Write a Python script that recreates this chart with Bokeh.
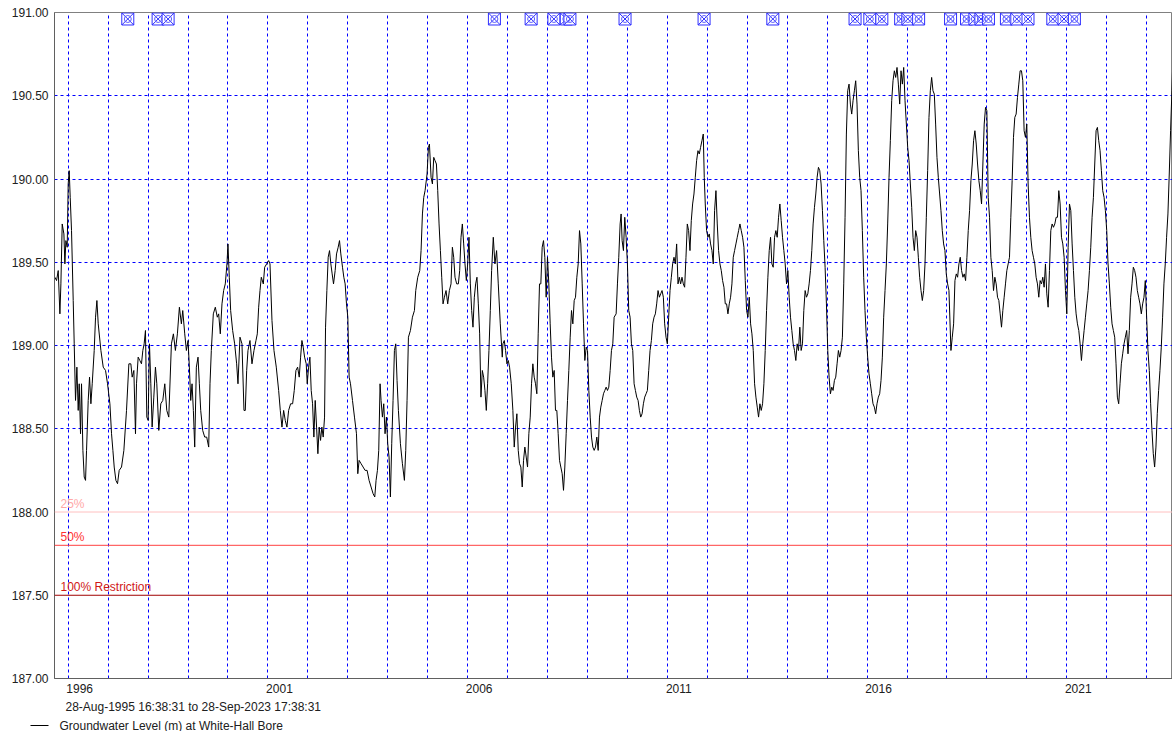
import datetime as dt
import numpy as np
from bokeh.plotting import figure
from bokeh.layouts import column
from bokeh.core.properties import value
from bokeh.models import (Range1d, FixedTicker, DatetimeTickFormatter, Span, Label,
                          PrintfTickFormatter)
from bokeh.embed import file_html
from bokeh.resources import INLINE

# ---------------- data (decimal year, level m) ----------------
seg_1995_2001 = [(1995.667,189.41),(1995.708,189.39),(1995.750,189.45),(1995.792,189.19),(1995.817,189.37),(1995.850,189.73),(1995.892,189.67),(1995.917,189.49),(1995.942,189.63),(1995.975,189.59),(1996.000,189.97),(1996.025,190.05),(1996.050,189.89),(1996.083,189.69),(1996.125,189.27),(1996.150,189.01),(1996.183,188.67),(1996.217,188.87),(1996.250,188.61),(1996.275,188.77),(1996.308,188.47),(1996.333,188.77),(1996.367,188.37),(1996.400,188.21),(1996.433,188.19),(1996.458,188.37),(1996.500,188.67),(1996.533,188.81),(1996.567,188.65),(1996.600,188.77),(1996.650,188.97),(1996.683,189.17),(1996.717,189.27),(1996.750,189.13),(1996.817,188.97),(1996.875,188.87),(1996.933,188.85),(1996.983,188.77),(1997.042,188.65),(1997.083,188.47),(1997.117,188.37),(1997.150,188.27),(1997.192,188.19),(1997.233,188.17),(1997.275,188.25),(1997.333,188.27),(1997.392,188.37),(1997.458,188.61),(1997.517,188.89),(1997.567,188.89),(1997.600,188.81),(1997.642,188.85),(1997.683,188.47),(1997.708,188.77),(1997.750,188.93),(1997.792,188.91),(1997.833,188.89),(1997.867,188.97),(1997.900,189.01),(1997.933,189.09),(1997.967,188.57),(1998.000,188.55),(1998.033,189.01),(1998.067,188.77),(1998.100,188.51),(1998.142,188.69),(1998.183,188.87),(1998.217,188.77),(1998.267,188.49),(1998.317,188.65),(1998.367,188.67),(1998.417,188.77),(1998.467,188.61),(1998.517,188.57),(1998.583,189.01),(1998.633,189.07),(1998.683,188.97),(1998.733,189.07),(1998.783,189.23),(1998.833,189.13),(1998.867,189.21),(1998.917,189.07),(1998.958,188.97),(1999.000,189.03),(1999.033,188.87),(1999.067,188.67),(1999.100,188.77),(1999.133,188.61),(1999.167,188.39),(1999.208,188.87),(1999.250,188.93),(1999.283,188.77),(1999.317,188.61),(1999.367,188.49),(1999.417,188.45),(1999.467,188.45),(1999.517,188.39),(1999.550,188.77),(1999.583,188.97),(1999.633,189.19),(1999.683,189.23),(1999.733,189.17),(1999.767,189.19),(1999.808,189.07),(1999.850,189.25),(1999.892,189.33),(1999.933,189.37),(1999.975,189.49),(2000.000,189.61),(2000.033,189.41),(2000.067,189.21),(2000.117,189.09),(2000.167,189.01),(2000.217,188.89),(2000.250,188.77),(2000.300,189.05),(2000.350,189.01),(2000.400,188.61),(2000.433,188.61),(2000.467,188.85),(2000.500,188.97),(2000.550,189.03),(2000.600,188.89),(2000.650,188.97),(2000.700,189.03),(2000.733,189.07),(2000.767,189.23),(2000.800,189.33),(2000.833,189.41),(2000.883,189.37),(2000.917,189.47),(2000.967,189.49),(2001.017,189.51),(2001.050,189.49),(2001.100,189.15),(2001.150,188.97),(2001.208,188.87)]

seg_2001_2006 = [(2001.267,188.73),(2001.308,188.61),(2001.350,188.51),(2001.392,188.61),(2001.433,188.55),(2001.475,188.51),(2001.517,188.61),(2001.567,188.65),(2001.617,188.65),(2001.658,188.73),(2001.700,188.85),(2001.742,188.87),(2001.783,188.81),(2001.817,188.93),(2001.850,189.03),(2001.883,188.99),(2001.917,188.93),(2001.958,188.89),(2001.983,188.77),(2002.017,188.87),(2002.050,188.93),(2002.083,188.73),(2002.117,188.65),(2002.150,188.45),(2002.183,188.67),(2002.217,188.51),(2002.250,188.35),(2002.283,188.51),(2002.317,188.43),(2002.350,188.51),(2002.383,188.45),(2002.417,188.57),(2002.442,189.11),(2002.475,189.33),(2002.508,189.53),(2002.542,189.57),(2002.575,189.49),(2002.608,189.43),(2002.642,189.37),(2002.683,189.45),(2002.717,189.55),(2002.758,189.59),(2002.792,189.63),(2002.825,189.55),(2002.867,189.47),(2002.900,189.41),(2002.933,189.37),(2002.967,189.25),(2003.000,189.17),(2003.033,188.81),(2003.067,188.77),(2003.117,188.67),(2003.167,188.57),(2003.217,188.47),(2003.250,188.23),(2003.283,188.31),(2003.333,188.29),(2003.383,188.27),(2003.433,188.25),(2003.483,188.25),(2003.533,188.19),(2003.583,188.15),(2003.633,188.11),(2003.675,188.09),(2003.708,188.19),(2003.742,188.25),(2003.775,188.37),(2003.808,188.77),(2003.833,188.67),(2003.867,188.57),(2003.900,188.65),(2003.933,188.47),(2003.967,188.57),(2004.000,188.41),(2004.033,188.33),(2004.067,188.09),(2004.100,188.41),(2004.133,188.67),(2004.167,188.97),(2004.200,189.01),(2004.233,188.79),(2004.267,188.61),(2004.317,188.41),(2004.367,188.29),(2004.417,188.19),(2004.450,188.37),(2004.483,188.67),(2004.517,189.05),(2004.567,189.09),(2004.617,189.17),(2004.667,189.21),(2004.700,189.33),(2004.750,189.41),(2004.800,189.45),(2004.833,189.57),(2004.867,189.79),(2004.900,189.89),(2004.933,189.93),(2004.983,190.03),(2005.017,190.19),(2005.042,190.21),(2005.083,190.01),(2005.117,189.97),(2005.150,190.13),(2005.183,190.11),(2005.217,190.09),(2005.250,189.93),(2005.283,189.73),(2005.317,189.57),(2005.350,189.41),(2005.383,189.25),(2005.417,189.29),(2005.458,189.33),(2005.500,189.25),(2005.542,189.33),(2005.583,189.37),(2005.617,189.59),(2005.650,189.53),(2005.683,189.41),(2005.725,189.37),(2005.767,189.37),(2005.800,189.45),(2005.833,189.65),(2005.867,189.73),(2005.900,189.61),(2005.933,189.49),(2005.967,189.39),(2006.000,189.49),(2006.033,189.65),(2006.067,189.37),(2006.100,189.21),(2006.133,189.11),(2006.167,189.29),(2006.200,189.37),(2006.233,189.41),(2006.267,189.25),(2006.300,189.07),(2006.333,188.69),(2006.367,188.85),(2006.400,188.81),(2006.433,188.73),(2006.467,188.61),(2006.500,188.77),(2006.533,188.97),(2006.567,189.21),(2006.600,189.45),(2006.642,189.65),(2006.683,189.49),(2006.725,189.57),(2006.767,189.37),(2006.817,189.13),(2006.867,188.93)]

seg_2006_2012 = [(2006.883,189.01),(2006.917,189.03),(2006.950,188.97),(2006.983,188.89),(2007.017,188.91),(2007.050,188.87),(2007.092,188.77),(2007.133,188.61),(2007.167,188.39),(2007.200,188.51),(2007.233,188.59),(2007.267,188.37),(2007.300,188.29),(2007.333,188.27),(2007.367,188.15),(2007.400,188.31),(2007.433,188.39),(2007.467,188.33),(2007.500,188.27),(2007.533,188.47),(2007.567,188.57),(2007.600,188.77),(2007.633,188.89),(2007.667,188.81),(2007.700,188.77),(2007.733,188.71),(2007.767,189.07),(2007.800,189.37),(2007.833,189.37),(2007.867,189.59),(2007.900,189.63),(2007.933,189.53),(2007.967,189.29),(2008.000,189.53),(2008.033,189.37),(2008.067,189.13),(2008.100,188.93),(2008.133,188.81),(2008.167,188.85),(2008.200,188.61),(2008.233,188.61),(2008.267,188.47),(2008.300,188.31),(2008.333,188.27),(2008.367,188.23),(2008.400,188.13),(2008.433,188.27),(2008.467,188.47),(2008.500,188.67),(2008.533,188.85),(2008.567,189.05),(2008.600,189.21),(2008.633,189.13),(2008.667,189.27),(2008.700,189.29),(2008.733,189.41),(2008.767,189.49),(2008.800,189.69),(2008.833,189.61),(2008.867,189.37),(2008.900,189.13),(2008.933,188.91),(2008.967,188.99),(2009.000,188.97),(2009.033,188.73),(2009.067,188.57),(2009.100,188.45),(2009.133,188.39),(2009.167,188.37),(2009.200,188.39),(2009.233,188.45),(2009.267,188.37),(2009.300,188.57),(2009.333,188.63),(2009.367,188.67),(2009.400,188.71),(2009.433,188.73),(2009.467,188.75),(2009.500,188.73),(2009.533,188.75),(2009.567,188.85),(2009.600,188.97),(2009.633,189.01),(2009.667,189.17),(2009.717,189.19),(2009.750,189.37),(2009.783,189.53),(2009.817,189.73),(2009.842,189.79),(2009.867,189.63),(2009.900,189.57),(2009.933,189.77),(2009.967,189.65),(2010.000,189.49),(2010.033,189.21),(2010.067,189.17),(2010.100,189.01),(2010.133,188.97),(2010.167,188.77),(2010.200,188.73),(2010.233,188.69),(2010.267,188.67),(2010.300,188.61),(2010.333,188.57),(2010.367,188.59),(2010.400,188.65),(2010.433,188.69),(2010.467,188.71),(2010.500,188.73),(2010.533,188.85),(2010.567,188.97),(2010.600,189.03),(2010.633,189.13),(2010.667,189.17),(2010.700,189.19),(2010.733,189.25),(2010.767,189.33),(2010.800,189.29),(2010.833,189.31),(2010.867,189.33),(2010.900,189.29),(2010.933,189.13),(2010.967,189.05),(2011.000,189.01),(2011.033,189.17),(2011.067,189.33),(2011.100,189.41),(2011.133,189.49),(2011.167,189.53),(2011.200,189.49),(2011.233,189.61),(2011.267,189.37),(2011.300,189.41),(2011.333,189.37),(2011.367,189.41),(2011.400,189.37),(2011.433,189.35),(2011.467,189.53),(2011.500,189.73),(2011.533,189.69),(2011.567,189.57),(2011.600,189.75),(2011.633,189.85),(2011.667,189.91),(2011.700,190.01),(2011.733,190.11),(2011.767,190.17),(2011.800,190.15),(2011.833,190.19),(2011.867,190.23),(2011.900,190.27),(2011.925,190.01),(2011.950,189.85),(2011.983,189.69),(2012.017,189.65),(2012.050,189.67),(2012.083,189.61),(2012.117,189.57),(2012.150,189.49),(2012.183,189.81),(2012.217,189.93),(2012.250,189.73),(2012.283,189.57),(2012.317,189.49),(2012.350,189.45),(2012.383,189.39),(2012.417,189.35),(2012.450,189.25)]

# regular series (one reading every 1/30 year)
reg_2012_start = 2012.483
reg_2012_levels = [189.25,189.19,189.25,189.29,189.37,189.53,189.57,189.61,189.65,189.69,189.73,189.69,189.65,189.59,189.39,189.21,189.17,189.29,189.13,189.07,188.97,188.77,188.69,188.63,188.57,188.65,188.61,188.65,188.77,188.97,189.21,189.41,189.57,189.65,189.49,189.47,189.65,189.69,189.65,189.77,189.85,189.75,189.65,189.57,189.49,189.37,189.45,189.29,189.17,189.09,189.01,188.97,188.91,189.01,188.97,189.11,188.97,189.01,189.21,189.33,189.29,189.31,189.37,189.45,189.57,189.73,189.83,189.91,190.01,190.07,190.05,189.97,189.81,189.63,189.47,189.25,188.97,188.81,188.71,188.75,188.73,188.79,188.81,188.89,188.97,188.93,188.97,189.05,189.37,189.77,190.27,190.53,190.57,190.45,190.39,190.47,190.53,190.59,190.45,190.17,190.01,189.93,189.69,189.41,189.21,189.05,188.93,188.83,188.77,188.71,188.65,188.63,188.59,188.65,188.69,188.71,188.79,188.93,189.17,189.33,189.49,189.73,190.01,190.23,190.47,190.59,190.65,190.61,190.67,190.57,190.45,190.65,190.57,190.67,190.47,190.33,190.19,190.11,189.97,189.83,189.65,189.57,189.69,189.65,189.53,189.41,189.33,189.27,189.33,189.49,189.77,190.05,190.37,190.53,190.61,190.53,190.51,190.33,190.13,190.01,189.91,189.81,189.69,189.61,189.57,189.43,189.37,189.33]

reg_2018_start = 2018.100
reg_2018_levels = [188.97,189.05,189.13,189.39,189.43,189.41,189.49,189.53,189.45,189.41,189.43,189.39,189.53,189.69,189.81,189.99,190.09,190.23,190.29,190.21,190.09,189.99,189.93,189.85,190.09,190.33,190.43,190.41,189.89,189.77,189.53,189.45,189.33,189.41,189.37,189.29,189.27,189.19,189.11,189.21,189.29,189.37,189.45,189.49,189.53,189.77,189.99,190.25,190.37,190.39,190.49,190.57,190.65,190.65,190.59,190.29,190.25,190.33,189.97,189.77,189.65,189.57,189.53,189.49,189.41,189.37,189.29,189.39,189.37,189.41,189.35,189.49,189.31,189.23,189.45,189.69,189.73,189.71,189.73,189.77,189.77,189.93,189.85,189.65,189.61,189.53,189.33,189.19,189.59,189.85,189.81,189.61,189.45,189.29,189.19,189.13,189.09,189.01,188.91,189.01,189.09,189.17,189.25,189.33,189.45,189.59,189.77,189.89,190.09,190.29,190.31,190.23,190.17,190.05,189.93,189.89,189.81,189.69,189.49,189.37,189.23,189.13,189.09,189.05,188.89,188.69,188.65,188.77,188.89,188.95,189.01,189.05,189.09,188.95,189.09,189.29,189.37,189.47,189.45,189.41,189.33,189.29,189.25,189.19,189.25,189.29,189.39,189.17,188.97,188.85,188.65,188.49,188.35,188.27,188.39,188.59,188.73,188.85,188.99,189.17,189.37,189.49,189.65,189.79,190.03,190.29,190.53,190.79]
reg_step = 1.0 / 30.0

# event markers along the top (decimal year)
marker_years = [1997.49, 1998.25, 1998.50, 2006.67, 2007.59, 2008.16, 2008.47, 2008.56,
                2009.94, 2011.92, 2013.64, 2015.70, 2016.07, 2016.37, 2016.84, 2017.02,
                2017.29, 2018.09, 2018.49, 2018.70, 2018.85, 2019.04, 2019.49, 2019.75,
                2020.03, 2020.65, 2020.93, 2021.19]

thresholds = [188.0, 187.8, 187.5]
threshold_labels = ["25%", "50%", "100% Restriction"]

y_ticks = [187.0, 187.5, 188.0, 188.5, 189.0, 189.5, 190.0, 190.5, 191.0]
y_grid = [188.5, 189.0, 189.5, 190.0, 190.5]
label_years = [1996, 2001, 2006, 2011, 2016, 2021]
grid_years = list(range(1996, 2024))

series_name = "Groundwater Level (m) at White-Hall Bore"
period_text = "28-Aug-1995 16:38:31 to 28-Sep-2023 17:38:31"
data_start = dt.datetime(1995, 8, 28, 16, 38, 31)

# ---------------- helpers ----------------
def dec_to_dt(t):
    y = int(np.floor(t))
    a = dt.datetime(y, 1, 1)
    b = dt.datetime(y + 1, 1, 1)
    return a + (b - a) * (t - y)

EPOCH = dt.datetime(1970, 1, 1)
def ms(d):
    return (d - EPOCH).total_seconds() * 1000.0

times = [t for t, _ in seg_1995_2001 + seg_2001_2006 + seg_2006_2012]
levels = [v for _, v in seg_1995_2001 + seg_2001_2006 + seg_2006_2012]
times += [reg_2012_start + i * reg_step for i in range(len(reg_2012_levels))]
levels += reg_2012_levels
times += [reg_2018_start + i * reg_step for i in range(len(reg_2018_levels))]
levels += reg_2018_levels
xs = [dec_to_dt(t) for t in times]

FONT = "Liberation Sans"
TXT = "#202020"

# ---------------- main chart ----------------
x_end = dec_to_dt(2023.648)
p = figure(width=1172, height=698, x_axis_type="datetime",
           x_range=Range1d(data_start, x_end), y_range=Range1d(187.0, 191.0),
           output_backend="svg", toolbar_location=None,
           min_border_left=54, min_border_right=0, min_border_top=12, min_border_bottom=20)
p.background_fill_color = "white"
p.border_fill_color = "white"
p.outline_line_color = "#808080"
p.outline_line_width = 1

# grids
p.xgrid.ticker = FixedTicker(ticks=[ms(dt.datetime(y, 1, 1)) for y in grid_years])
p.ygrid.ticker = FixedTicker(ticks=y_grid)
for g in (p.xgrid, p.ygrid):
    g.grid_line_color = "#0000FF"
    g.grid_line_dash = "3 3"
    g.grid_line_width = 1

# axes (year labels sit to the right of their January gridline)
label_shift = dt.timedelta(days=105)
p.xaxis.ticker = FixedTicker(ticks=[ms(dt.datetime(y, 1, 1) + label_shift) for y in label_years])
p.xaxis.formatter = DatetimeTickFormatter(years="%Y", months="%Y", days="%Y", hours="%Y",
                                          hourmin="%Y", minutes="%Y", minsec="%Y",
                                          seconds="%Y", milliseconds="%Y", microseconds="%Y")
p.yaxis.ticker = FixedTicker(ticks=y_ticks)
p.yaxis.formatter = PrintfTickFormatter(format="%.2f")
for ax in (p.xaxis, p.yaxis):
    ax.axis_line_color = "#606060"
    ax.axis_line_width = 1
    ax.major_tick_line_color = None
    ax.minor_tick_line_color = None
    ax.major_tick_out = 0
    ax.major_tick_in = 0
    ax.minor_tick_out = 0
    ax.minor_tick_in = 0
    ax.major_label_text_font = FONT
    ax.major_label_text_font_size = "12px"
    ax.major_label_text_color = TXT
p.xaxis.major_label_standoff = 5
p.yaxis.major_label_standoff = 6

# thresholds
th_line_colors = ["#FFC0C0", "#FF4040", "#A00000"]
th_text_colors = ["#FFA8A8", "#FF3030", "#D01818"]
for val, lab, lc, tc in zip(thresholds, threshold_labels, th_line_colors, th_text_colors):
    p.add_layout(Span(location=val, dimension="width", line_color=lc, line_width=1))
    p.add_layout(Label(x=data_start, y=val, x_offset=6, y_offset=1, text=lab,
                       text_align="left", text_baseline="bottom", text_font=FONT,
                       text_font_size="12px", text_color=tc))

# data line
p.line(xs, levels, line_color="black", line_width=1)

# top markers
mx = [dec_to_dt(t) for t in marker_years]
my = [190.961] * len(mx)
p.scatter(mx, my, marker="square_x", size=12, line_color="#2F2FFF", fill_color="white", line_width=1)
p.scatter(mx, my, marker="circle", size=7, line_color="#5A5AFF", fill_color=None, line_width=1)

# ---------------- footer strip: period text and legend (pixel space) ----------------
foot_h = 33
aligned_off = True
try:
    p.frame_align = False
except Exception:
    aligned_off = False

foot_x0 = 0 if aligned_off else 54
foot = figure(width=1172, height=foot_h, x_range=Range1d(foot_x0, 1172), y_range=Range1d(0, foot_h),
              output_backend="svg", toolbar_location=None,
              x_axis_location=None, y_axis_location=None, min_border=0,
              min_border_left=0, min_border_right=0, min_border_top=0, min_border_bottom=0)
if aligned_off:
    foot.frame_align = False
foot.grid.visible = False
foot.outline_line_color = None
foot.background_fill_color = "white"
foot.border_fill_color = "white"

leg_x0 = 30 if aligned_off else 56
foot.text(x=[65], y=[foot_h - 8], text=[period_text], text_font=value(FONT),
          text_font_size="12px", text_color=TXT, text_align="left", text_baseline="middle")
foot.line(x=[leg_x0, leg_x0 + 18], y=[foot_h - 27, foot_h - 27], line_color="black", line_width=1)
foot.text(x=[leg_x0 + 29], y=[foot_h - 27], text=[series_name], text_font=value(FONT),
          text_font_size="12px", text_color=TXT, text_align="left", text_baseline="middle")

page = column(p, foot, spacing=0)

open("out.html", "w").write(file_html(page, INLINE))
